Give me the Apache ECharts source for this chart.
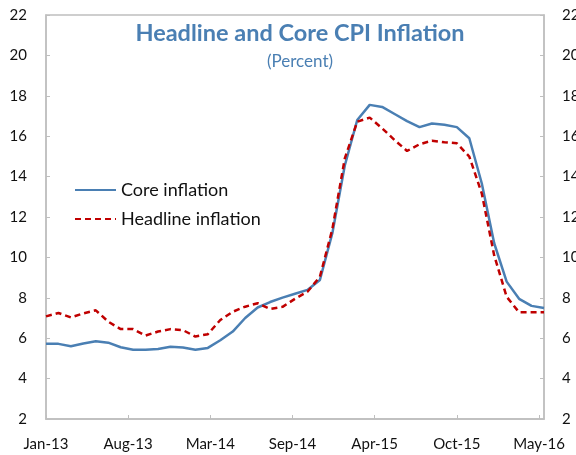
<!DOCTYPE html>
<html>
<head>
<meta charset="utf-8">
<script src="https://cdn.jsdelivr.net/npm/echarts@6/dist/echarts.min.js"></script>
<style>
  html, body { margin: 0; padding: 0; background: #fff; }
  #main { width: 576px; height: 455px; }
</style>
</head>
<body>
<div id="main"></div>
<script>
// monthly, Jan-13 .. May-16
var months = ['Jan-13','Feb-13','Mar-13','Apr-13','May-13','Jun-13','Jul-13','Aug-13','Sep-13','Oct-13','Nov-13','Dec-13',
              'Jan-14','Feb-14','Mar-14','Apr-14','May-14','Jun-14','Jul-14','Aug-14','Sep-14','Oct-14','Nov-14','Dec-14',
              'Jan-15','Feb-15','Mar-15','Apr-15','May-15','Jun-15','Jul-15','Aug-15','Sep-15','Oct-15','Nov-15','Dec-15',
              'Jan-16','Feb-16','Mar-16','Apr-16','May-16'];

var core = [5.72, 5.72, 5.6, 5.74, 5.85, 5.78, 5.55, 5.43, 5.43, 5.47, 5.58, 5.54,
            5.43, 5.52, 5.9, 6.33, 7.0, 7.52, 7.79, 8.01, 8.2, 8.39, 8.88, 11.2,
            14.55, 16.8, 17.55, 17.45, 17.1, 16.75, 16.45, 16.63, 16.57, 16.45, 15.9, 13.67,
            10.7, 8.8, 7.95, 7.6, 7.5];

var headline = [7.08, 7.25, 7.03, 7.23, 7.38, 6.82, 6.45, 6.45, 6.13, 6.33, 6.45, 6.4,
                6.08, 6.2, 6.9, 7.31, 7.56, 7.73, 7.45, 7.55, 7.95, 8.3, 9.04, 11.4,
                14.9, 16.72, 16.92, 16.39, 15.81, 15.27, 15.6, 15.78, 15.7, 15.65, 14.99, 13.17,
                10.1, 8.05, 7.28, 7.28, 7.28];

var xTickLabels = ['Jan-13', 'Aug-13', 'Mar-14', 'Sep-14', 'Apr-15', 'Oct-15', 'May-16'];
var xTickStep = 6.6;

var yTicks = { min: 2, max: 22, interval: 2 };

function toPoints(vals) {
    var out = [];
    for (var i = 0; i < vals.length; i++) {
        out.push([i, vals[i]]);
    }
    return out;
}

var FONT = 'Lato, "Open Sans", sans-serif';
var BLUE = '#4a7fb3';

var myChart = echarts.init(document.getElementById('main'));

var option = {
    animation: false,
    title: [{
        text: 'Headline and Core CPI Inflation',
        left: 295,
        top: 16,
        textAlign: 'center',
        textStyle: { color: BLUE, fontFamily: FONT, fontWeight: 'bold', fontSize: 23.5 }
    }, {
        text: '(Percent)',
        left: 295,
        top: 48,
        textAlign: 'center',
        textStyle: { color: BLUE, fontFamily: FONT, fontWeight: 'normal', fontSize: 17 }
    }],
    grid: {
        left: 46, right: 32, top: 15, bottom: 36,
        outerBoundsMode: 'none',
        show: true,
        borderColor: '#bfbfbf',
        borderWidth: 1.5
    },
    legend: {
        orient: 'vertical',
        left: 69,
        top: 176,
        itemWidth: 41,
        itemHeight: 14,
        itemGap: 11,
        itemStyle: { opacity: 0 },
        textStyle: { fontFamily: FONT, fontSize: 18, color: '#111' },
        data: ['Core inflation', 'Headline inflation']
    },
    xAxis: {
        type: 'value',
        min: 0,
        max: months.length - 1,
        interval: xTickStep,
        splitLine: { show: false },
        axisLine: { lineStyle: { color: '#bfbfbf', width: 1.5 } },
        axisTick: { inside: true, length: 4, lineStyle: { color: '#bfbfbf' } },
        axisLabel: {
            margin: 18,
            showMaxLabel: false,
            fontFamily: FONT, fontSize: 15, color: '#111',
            formatter: function (v) {
                var k = Math.round(v / xTickStep);
                if (Math.abs(v - k * xTickStep) > 0.01) return '';
                return xTickLabels[k] || '';
            }
        }
    },
    yAxis: [{
        type: 'value',
        position: 'left',
        min: yTicks.min, max: yTicks.max, interval: yTicks.interval,
        splitLine: { show: false },
        axisLine: { show: true, lineStyle: { color: '#bfbfbf', width: 1.5 } },
        axisTick: { show: true, inside: true, length: 4, lineStyle: { color: '#bfbfbf' } },
        axisLabel: { margin: 19, fontFamily: FONT, fontSize: 15, color: '#111' }
    }, {
        type: 'value',
        position: 'right',
        min: yTicks.min, max: yTicks.max, interval: yTicks.interval,
        splitLine: { show: false },
        axisLine: { show: true, lineStyle: { color: '#bfbfbf', width: 1.5 } },
        axisTick: { show: true, inside: true, length: 4, lineStyle: { color: '#bfbfbf' } },
        axisLabel: { margin: 18, fontFamily: FONT, fontSize: 15, color: '#111' }
    }],
    series: [{
        name: 'Core inflation',
        type: 'line',
        symbol: 'none',
        data: toPoints(core),
        lineStyle: { color: BLUE, width: 2.5 },
        itemStyle: { color: BLUE },
        z: 2
    }, {
        name: 'Headline inflation',
        type: 'line',
        symbol: 'none',
        data: toPoints(headline),
        lineStyle: { color: '#c00000', width: 2.5, type: [6, 4] },
        itemStyle: { color: '#c00000' },
        z: 3
    }]
};

myChart.setOption(option);
</script>
</body>
</html>
